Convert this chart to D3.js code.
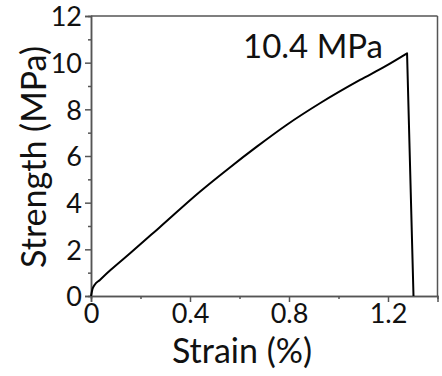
<!DOCTYPE html>
<html><head><meta charset="utf-8">
<script src="https://cdn.jsdelivr.net/npm/d3@7"></script>
<style>body{margin:0;background:#fff}svg{display:block}text{font-family:Lato,"Open Sans",sans-serif;fill:#111}</style>
</head><body><svg id="c" width="442" height="376"></svg>
<script>
const strain = [0, 0.006, 0.015, 0.036, 0.08, 0.158, 0.279, 0.44, 0.56, 0.67, 0.79, 0.925, 1.087, 1.19, 1.277, 1.303];
const stress = [0, 0.3, 0.48, 0.69, 1.12, 1.83, 2.96, 4.47, 5.5, 6.4, 7.33, 8.26, 9.26, 9.85, 10.4, 0];
const xTicks = [0, 0.4, 0.8, 1.2];
const xMinor = [0.2, 0.6, 1.0];
const yTicks = [0, 2, 4, 6, 8, 10, 12];
const yMinor = [1, 3, 5, 7, 9, 11];
const xLabel = "Strain (%)";
const yLabel = "Strength (MPa)";
const annotation = "10.4 MPa";

const svg = d3.select("#c");
const x = d3.scaleLinear().domain([0, 1.4]).range([91, 437.5]);
const y = d3.scaleLinear().domain([0, 12]).range([296, 16]);
const axisColor = "#555";

svg.append("line").attr("x1", x(0)).attr("x2", x(1.4)).attr("y1", y(12)).attr("y2", y(12)).attr("stroke", axisColor).attr("stroke-width", 1.5);
svg.append("line").attr("x1", x(1.4)).attr("x2", x(1.4)).attr("y1", y(12)).attr("y2", y(0)).attr("stroke", axisColor).attr("stroke-width", 1.5);

const gx = svg.append("g").attr("transform", `translate(0,${y(0)})`)
  .call(d3.axisBottom(x).tickValues(xTicks).tickFormat(d => d === 0 ? "0" : d3.format(".1f")(d)).tickSize(6).tickPadding(2));
gx.append("g").call(d3.axisBottom(x).tickValues(xMinor).tickFormat("").tickSize(3));
const gy = svg.append("g").attr("transform", `translate(${x(0)},0)`)
  .call(d3.axisLeft(y).tickValues(yTicks).tickFormat(d3.format("d")).tickSize(6).tickPadding(3));
gy.append("g").call(d3.axisLeft(y).tickValues(yMinor).tickFormat("").tickSize(3));
svg.selectAll(".domain").attr("stroke", axisColor).attr("stroke-width", 1.5);
svg.selectAll(".tick line").attr("stroke", axisColor).attr("stroke-width", 1.5);
svg.selectAll(".tick text").style("font-size", "27px").attr("fill", "#111");
gx.selectAll(".tick text").attr("dy", "0.72em");
gy.selectAll(".tick text").attr("dy", "0.36em");

const pts = strain.map((s, i) => [s, stress[i]]);
const rising = pts.slice(0, pts.length - 1);
const drop = pts.slice(pts.length - 2);
const lineSmooth = d3.line().curve(d3.curveMonotoneX).x(d => x(d[0])).y(d => y(d[1]));
const lineStraight = d3.line().x(d => x(d[0])).y(d => y(d[1]));
svg.append("path").attr("fill", "none").attr("stroke", "#000").attr("stroke-width", 2)
  .attr("stroke-linejoin", "round").attr("d", lineSmooth(rising) + lineStraight(drop).replace(/^M[^L]*/, ""));

svg.append("text").attr("x", 242).attr("y", 363).attr("text-anchor", "middle").style("font-size", "34px").text(xLabel);
svg.append("text").attr("transform", "translate(46,157) rotate(-90)").attr("text-anchor", "middle").style("font-size", "34px").text(yLabel);
svg.append("text").attr("x", 243).attr("y", 58).style("font-size", "33px").text(annotation);
</script></body></html>
